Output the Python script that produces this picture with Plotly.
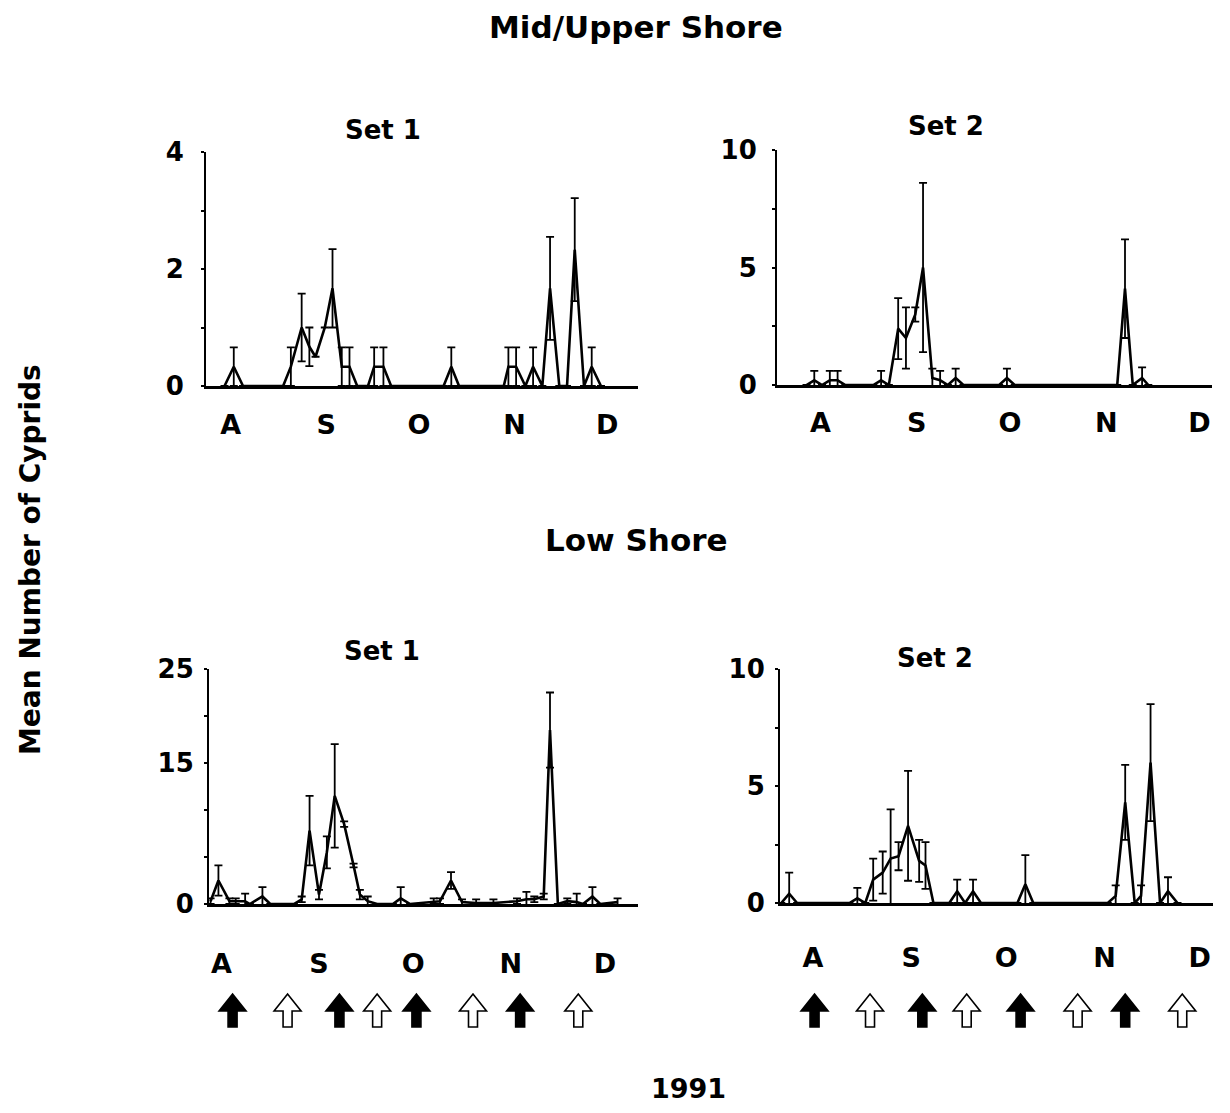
import plotly.graph_objects as go

# ---------------- data (days relative to 1 August 1991) ----------------
month_days = [0, 31, 61, 92, 122]
month_labels = ["A", "S", "O", "N", "D"]

# Mid/Upper shore, Set 1
mu1_day = [-2, 1, 4, 17, 19.5, 23, 25.5, 27.5, 30.5, 33, 36, 38.5, 41, 44.5, 46.5, 49.5, 52,
           69, 71.5, 74, 88.5, 90, 92.5, 95.5, 98, 101, 103.5, 106.5, 109, 111.5, 114.5, 117, 120]
mu1_mean = [0, 0.33, 0, 0, 0.33, 1.0, 0.67, 0.5, 1.0, 1.67, 0.33, 0.33, 0, 0, 0.33, 0.33, 0,
            0, 0.33, 0, 0, 0.33, 0.33, 0, 0.33, 0, 1.67, 0, 0, 2.33, 0, 0.33, 0]
mu1_se = [0, 0.33, 0, 0, 0.33, 0.58, 0.33, 0, 0, 0.67, 0.33, 0.33, 0, 0, 0.33, 0.33, 0,
          0, 0.33, 0, 0, 0.33, 0.33, 0, 0.33, 0, 0.88, 0, 0, 0.88, 0, 0.33, 0]

# Mid/Upper shore, Set 2
mu2_day = [-4.5, -2, 0.5, 3, 5.5, 8, 17, 19.5, 22, 25, 27.5, 30.5, 33, 36, 38.5, 41, 43.5, 46,
           57.5, 60, 62.5, 95.5, 98, 100.5, 103.5, 105.5]
mu2_mean = [0, 0.2, 0, 0.2, 0.2, 0, 0, 0.2, 0, 2.4, 2.0, 3.0, 5.0, 0.3, 0.2, 0, 0.3, 0,
            0, 0.3, 0, 0, 4.1, 0, 0.3, 0]
mu2_se = [0, 0.4, 0, 0.4, 0.4, 0, 0, 0.4, 0, 1.3, 1.3, 0.3, 3.6, 0.4, 0.4, 0, 0.4, 0,
          0, 0.4, 0, 0, 2.1, 0, 0.45, 0]

# Low shore, Set 1
lo1_day = [-3.5, -1, 2.5, 4.5, 7.5, 9, 13, 15.5, 23, 25.5, 28, 31, 33.5, 36, 39, 42, 44, 46.5,
           49.5, 54.5, 57, 60, 67.5, 69.5, 73, 76.5, 81, 86.5, 94, 97, 99.5, 102.5, 104.5, 107,
           110, 113, 115, 118, 120.5, 126]
lo1_mean = [0.3, 2.5, 0.3, 0.3, 0.3, 0, 0.8, 0, 0, 0.5, 7.8, 1.0, 5.5, 11.5, 8.5, 4.1, 1.0, 0.3,
            0, 0, 0.6, 0, 0.3, 0.3, 2.5, 0.2, 0.1, 0.1, 0.3, 0.5, 0.5, 0.8, 18.5, 0,
            0.3, 0.2, 0, 0.8, 0, 0.2]
lo1_se = [0.3, 1.6, 0.3, 0.3, 0.8, 0, 1.0, 0, 0, 0.3, 3.7, 0.5, 1.7, 5.5, 0.3, 0.2, 0.5, 0.5,
          0, 0, 1.2, 0, 0.3, 0.3, 0.9, 0.3, 0.4, 0.4, 0.3, 0.8, 0.3, 0.3, 4.0, 0,
          0.3, 0.9, 0, 1.0, 0, 0.4]

# Low shore, Set 2
lo2_day = [-10, -7.5, -5, 11.5, 14, 16.5, 19, 22, 24.5, 27, 30, 33.5, 35.5, 38, 43, 45.5, 48,
           50.5, 53, 64.5, 67, 69.5, 93, 95.5, 98.5, 101.5, 103.5, 106.5, 109.5, 112, 115]
lo2_mean = [0, 0.4, 0, 0, 0.2, 0, 1.0, 1.3, 1.9, 2.0, 3.3, 1.8, 1.6, 0, 0, 0.5, 0,
            0.5, 0, 0, 0.8, 0, 0, 0.3, 4.3, 0, 0.3, 6.0, 0, 0.5, 0]
lo2_se = [0, 0.9, 0, 0, 0.45, 0, 0.9, 0.9, 2.1, 0.6, 2.35, 0.9, 1.0, 0, 0, 0.5, 0,
          0.5, 0, 0, 1.25, 0, 0, 0.45, 1.6, 0, 0.45, 2.5, 0, 0.6, 0]

# Tide arrows under the low-shore panels (filled = 1, open = 0)
lo1_arrow_day = [3.5, 21, 37.5, 49.5, 62, 80, 95, 113.5]
lo2_arrow_day = [0.5, 18, 34.5, 48.5, 65.5, 83.5, 98.5, 116.5]
arrow_filled = [1, 0, 1, 0, 1, 0, 1, 0]

# ---------------- figure ----------------
FONT = "DejaVu Sans"
fig = go.Figure()

panels = [
    (mu1_day, mu1_mean, mu1_se, "x", "y"),
    (mu2_day, mu2_mean, mu2_se, "x2", "y2"),
    (lo1_day, lo1_mean, lo1_se, "x3", "y3"),
    (lo2_day, lo2_mean, lo2_se, "x4", "y4"),
]
for d, m, s, xa, ya in panels:
    fig.add_trace(go.Scatter(
        x=d, y=m, mode="lines", xaxis=xa, yaxis=ya,
        line=dict(color="black", width=2.6),
        error_y=dict(type="data", array=s, visible=True, color="black",
                     thickness=1.8, width=4),
        showlegend=False, hoverinfo="skip", cliponaxis=False,
    ))

xtickfont = dict(family=FONT, size=27, color="black", weight="bold")
ytickfont = dict(family=FONT, size=26, color="black", weight="bold")

def xaxis(domain, rng, standoff):
    return dict(domain=domain, range=rng, showline=True, linecolor="black",
                linewidth=2.5, ticks="", tickvals=month_days, ticktext=month_labels,
                showgrid=False, zeroline=False, tickfont=xtickfont,
                ticklabelstandoff=standoff, fixedrange=True, automargin=False)

def yaxis(domain, rng, tv, tt, standoff):
    return dict(domain=domain, range=rng, showline=True, linecolor="black", linewidth=2,
                ticks="outside", ticklen=3, tickwidth=1.5, tickcolor="black",
                tickvals=tv, ticktext=tt, showgrid=False, zeroline=False,
                tickfont=ytickfont, ticklabelstandoff=standoff, fixedrange=True,
                automargin=False)

W, H = 1230, 1113
def px(x0, x1):
    return [x0 / W, x1 / W]
def py(top, bottom):
    return [1 - bottom / H, 1 - top / H]

fig.update_layout(
    xaxis=dict(xaxis(px(206, 638), [-8, 132], 13), anchor="y"),
    yaxis=dict(yaxis(py(152, 386), [0, 4], [0, 1, 2, 3, 4], ["0", "", "2", "", "4"], 12), anchor="x"),
    xaxis2=dict(xaxis(px(777, 1212), [-14, 126], 12), anchor="y2"),
    yaxis2=dict(yaxis(py(150, 385), [0, 10], [0, 2.5, 5, 7.5, 10], ["0", "", "5", "", "10"], 10), anchor="x2"),
    xaxis3=dict(xaxis(px(209, 638), [-4, 132.5], 34), anchor="y3"),
    yaxis3=dict(yaxis(py(669, 904), [0, 25], [0, 5, 10, 15, 20, 25], ["0", "", "", "15", "", "25"], 5), anchor="x3"),
    xaxis4=dict(xaxis(px(780, 1213), [-10.4, 126.2], 29), anchor="y4"),
    yaxis4=dict(yaxis(py(669, 903), [0, 10], [0, 2.5, 5, 7.5, 10], ["0", "", "5", "", "10"], 5), anchor="x4"),
)

# arrows (block arrows, drawn in pixels around an anchor on each x axis)
arrow_path = "M -4.5,0 L 4.5,0 L 4.5,16 L 13.5,16 L 0,33 L -13.5,16 L -4.5,16 Z"
shapes = []
for days, xr in [(lo1_arrow_day, "x3"), (lo2_arrow_day, "x4")]:
    for dd, f in zip(days, arrow_filled):
        shapes.append(dict(
            type="path", path=arrow_path, xref=xr, yref="paper",
            xsizemode="pixel", ysizemode="pixel", xanchor=dd, yanchor=1 - 1027 / H,
            fillcolor="black" if f else "white",
            line=dict(color="black", width=1.6),
        ))
fig.update_layout(shapes=shapes)

def ann(text, x, y, size, angle=0):
    return dict(text=text, x=x / W, y=1 - y / H, xref="paper", yref="paper",
                showarrow=False, textangle=angle, xanchor="center", yanchor="middle",
                font=dict(family=FONT, size=size, color="black", weight="bold"))

fig.update_layout(annotations=[
    ann("Mid/Upper Shore", 636, 27, 31),
    ann("Low Shore", 636, 540, 31),
    ann("Set 1", 383, 130, 26),
    ann("Set 2", 946, 126, 26),
    ann("Set 1", 382, 651, 26),
    ann("Set 2", 935, 658, 26),
    ann("1991", 688, 1088, 27),
    ann("Mean Number of Cyprids", 30, 560, 28, angle=-90),
])

fig.update_layout(
    width=W, height=H, autosize=False,
    margin=dict(l=0, r=0, t=0, b=0, pad=0, autoexpand=False),
    paper_bgcolor="white", plot_bgcolor="white",
    showlegend=False,
)

fig.write_html("out.html")
